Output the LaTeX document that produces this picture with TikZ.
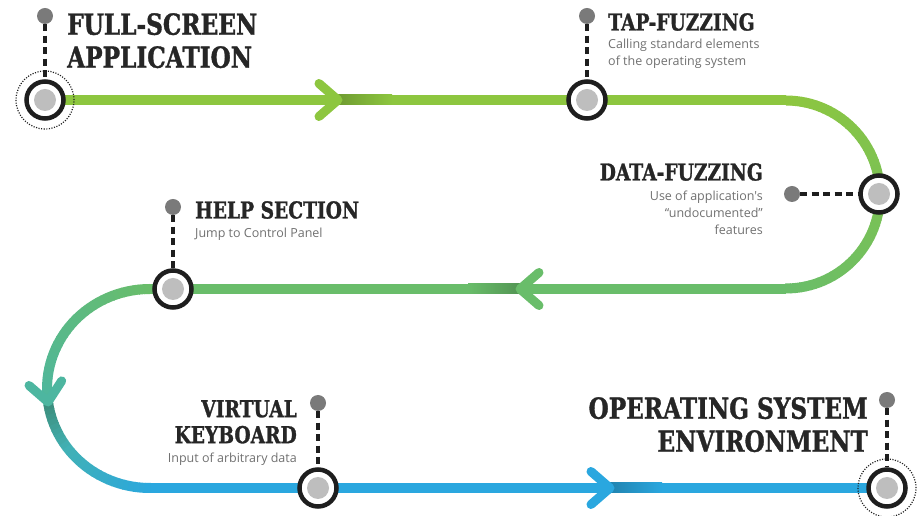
\documentclass[tikz,border=0pt]{standalone}
\usepackage{fontspec}
\usetikzlibrary{backgrounds}

\newfontfamily\headFont[FakeStretch=0.8, BoldFeatures={FakeBold=1.2}]{DejaVu Serif}
\newfontfamily\noteFont{Open Sans}

\definecolor{trackLime}{HTML}{8DC63F}
\definecolor{trackGreen}{HTML}{69BD6A}
\definecolor{trackTeal}{HTML}{4DB6A0}
\definecolor{trackBlue}{HTML}{2AA7DF}
\definecolor{ringInk}{HTML}{1E1E1E}
\definecolor{headInk}{HTML}{262626}
\definecolor{noteInk}{HTML}{707070}
\definecolor{dotGrey}{HTML}{7A7A7A}
\definecolor{coreGrey}{HTML}{BEBEBE}

\newcommand\trackWidth{10}

\begin{document}
\begin{tikzpicture}[x=1pt, y=1pt,
    stop/.style={circle, draw=ringInk, line width=4.5, fill=white, minimum size=37, inner sep=0,
        path picture={\fill[coreGrey] (path picture bounding box.center) circle (11);}},
    marker/.style={circle, fill=dotGrey, minimum size=16, inner sep=0},
    leader/.style={ringInk, line width=3.2, dash pattern=on 7 off 4.5},
    halo/.style={ringInk, line width=1.2, dash pattern=on 1.1 off 1.5},
    track/.style={line width=\trackWidth},
    chevron/.style={line width=9, line cap=round, line join=round},
    heading/.style={inner sep=0, text=headInk, font=\headFont\bfseries\fontsize{23.3}{26}\selectfont},
    bigheading/.style={inner sep=0, text=headInk, font=\headFont\bfseries\fontsize{29}{33}\selectfont},
    note/.style={inner sep=0, text=noteInk, font=\noteFont\fontsize{12.5}{17}\selectfont}]
    \useasboundingbox (0,0) rectangle (920,516);
    \def\chevron[#1,#2,#3,#4]{% arrow head on the track: tip x, tip y, direction and colour
        \draw [chevron, #4, shift={(#1,#2)}, rotate=#3] (-19,16.5) -- (0,0) -- (-19,-16.5);
    }
    % Stops along the track
    \node [stop] (fullscreen) at (45,416) {};
    \node [stop] (tapfuzz) at (587,416) {};
    \node [stop] (datafuzz) at (879,322) {};
    \node [stop] (helpsec) at (173,227) {};
    \node [stop] (vkeyb) at (318,28) {};
    \node [stop] (osenv) at (887,28) {};
    \draw [halo] (fullscreen.center) circle (29);
    \draw [halo] (osenv.center) circle (29);
    % Markers with their leaders
    \foreach \s/\x/\y in {fullscreen/45/500, tapfuzz/587/500, datafuzz/792/322,
        helpsec/173/309, vkeyb/318/113, osenv/887/116} {
        \node [marker] (\s-dot) at (\x,\y) {};
        \draw [leader] (\s-dot) -- (\s);
    }
    % Turning points of the track
    \coordinate (rightTop) at (786,416);
    \coordinate (rightBottom) at (786,227);
    \coordinate (rightTurn) at (786,321.5);
    \coordinate (leftTop) at (150,227);
    \coordinate (leftBottom) at (150,28);
    \coordinate (leftTurn) at (150,127.5);
    \begin{scope}[on background layer]
        % Straight runs
        \draw [track, trackLime] (fullscreen.center) -- (rightTop);
        \draw [track, trackGreen] (rightBottom) -- (leftTop);
        \draw [track, trackBlue] (leftBottom) -- (osenv.center);
        % Right turn, lime into green
        \foreach \t in {90,87,...,-87} {
            \pgfmathsetmacro\p{(\t+90)/1.8}
            \draw [track, trackLime!\p!trackGreen, shift={(rightTurn)}] (\t:94) arc [start angle=\t, end angle=\t-3.4, radius=94];
        }
        % Left turn, green into teal into blue, darker just after the arrow head
        \foreach \t in {90,93,...,267} {
            \pgfmathsetmacro\pa{max(0,min(100,(188-\t)/0.98))}
            \pgfmathsetmacro\pb{max(0,min(100,(270-\t)/0.82))}
            \pgfmathsetmacro\keep{100-(\t>187)*max(0,22-0.8*(\t-188))}
            \colorlet{segTone}{trackTeal!\pb!trackBlue}
            \colorlet{segTone}{trackGreen!\pa!segTone}
            \draw [track, segTone!\keep!black, shift={(leftTurn)}, xscale=1.035] (\t:99.5) arc [start angle=\t, end angle=\t+3.4, radius=99.5];
        }
        % Shadows ahead of the arrow heads
        \shade [left color=trackLime!78!black, right color=trackLime] (336,411) rectangle (392,421);
        \shade [left color=trackGreen, right color=trackGreen!78!black] (468,222) rectangle (522,232);
        \shade [left color=trackBlue!78!black, right color=trackBlue] (608,23) rectangle (662,33);
        \foreach \x/\y/\a/\c in {338/416/0/trackLime, 520/227/180/trackGreen, 48/114/-82/trackTeal, 610/28/0/trackBlue}
            \chevron[\x,\y,\a,\c];
    \end{scope}
    % Labels
    \node [bigheading, anchor=north west, align=left] (fullscreen-label) at (67,503) {FULL-SCREEN\\APPLICATION};
    \node [heading, anchor=north west] (tapfuzz-label) at (608,503) {TAP-FUZZING};
    \node [note, anchor=north west, align=left] (tapfuzz-note) at (608,477) {Calling standard elements\\of the operating system};
    \node [heading, anchor=north east] (datafuzz-label) at (763,353) {DATA-FUZZING};
    \node [note, anchor=north east, align=right] (datafuzz-note) at (763,325) {Use of application's\\“undocumented”\\features};
    \node [heading, anchor=north west] (helpsec-label) at (195,315) {HELP SECTION};
    \node [note, anchor=north west] (helpsec-note) at (195,288) {Jump to Control Panel};
    \node [heading, anchor=north east, align=right] (vkeyb-label) at (297,116) {VIRTUAL\\KEYBOARD};
    \node [note, anchor=north east] (vkeyb-note) at (297,63) {Input of arbitrary data};
    \node [bigheading, anchor=north east, align=right] (osenv-label) at (868,119) {OPERATING SYSTEM\\ENVIRONMENT};
\end{tikzpicture}
\end{document}
